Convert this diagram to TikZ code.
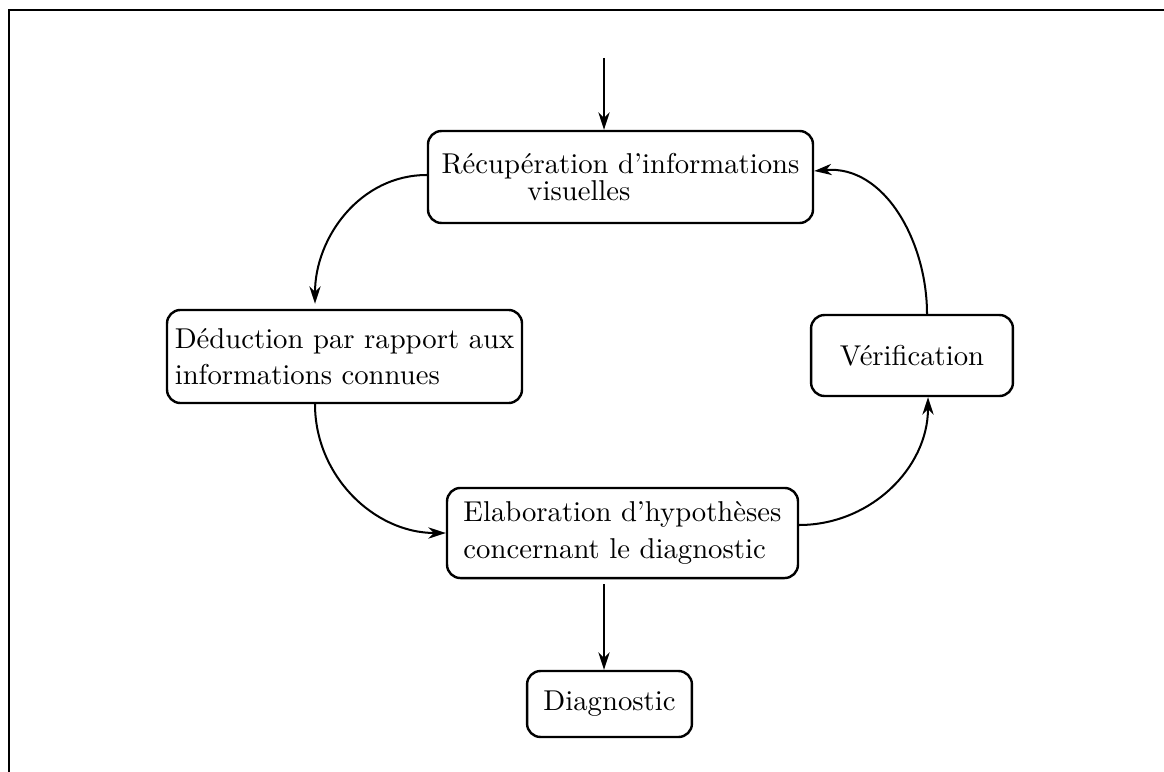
\documentclass[tikz,border=0pt]{standalone}
\usetikzlibrary{arrows.meta,calc}
\begin{document}
\begin{tikzpicture}[x=0.373pt,y=-0.373pt,
  box/.style={draw,line width=0.9pt,rounded corners=5pt,inner sep=2pt,align=left,font=\fontsize{10.7pt}{13.5pt}\selectfont},
  arr/.style={line width=0.75pt,-{Stealth[length=6.5pt,width=4.2pt,inset=2pt]}},
  frame/.style={line width=0.8pt}]
\useasboundingbox (0,0) rectangle (1164,772);
% frame
\coordinate (fa) at (1164,10);
\coordinate (fb) at (9,10);
\coordinate (fc) at (9,772);
\draw[frame] (fa) -- (fb) -- (fc);
% nodes
\node[box,minimum width=143.6pt,minimum height=34.3pt] (rec) at (620.5,177)
  {R\'ecup\'eration d'informations\\[-3.5pt]\hspace*{32pt}visuelles};
\node[box,minimum width=132.4pt,minimum height=34.7pt] (ded) at (344.5,356.5)
  {D\'eduction par rapport aux\\informations connues};
\node[box,minimum width=75.3pt,minimum height=30.2pt] (ver) at (912,355.5)
  {V\'erification};
\node[box,minimum width=130.9pt,minimum height=33.6pt] (ele) at (622.5,533)
  {Elaboration d'hypoth\`eses\\concernant le diagnostic};
\node[box,minimum width=61.5pt,minimum height=24.6pt] (dia) at (609.5,704)
  {Diagnostic};
% connectors
\coordinate (start) at (604,58);
\draw[arr] (start) -- ($(rec.north)+(-16.5,0)$);
\draw[arr] ($(rec.west)+(0,-2)$) to[out=180,in=90] ($(ded.north)+(-29.5,-5)$);
\draw[arr] ($(ded.south)+(-29.5,0)$) to[out=-90,in=180] (ele.west);
\draw[arr] ($(ele.east)+(0,-8)$) to[out=0,in=-90] ($(ver.south)+(16,0)$);
\draw[arr] ($(ver.north)+(15,0)$) to[out=90,in=5] ($(rec.east)+(0,-6)$);
\draw[arr] ($(ele.south)+(-18.5,5)$) -- (dia.north -| start);
\end{tikzpicture}
\end{document}
